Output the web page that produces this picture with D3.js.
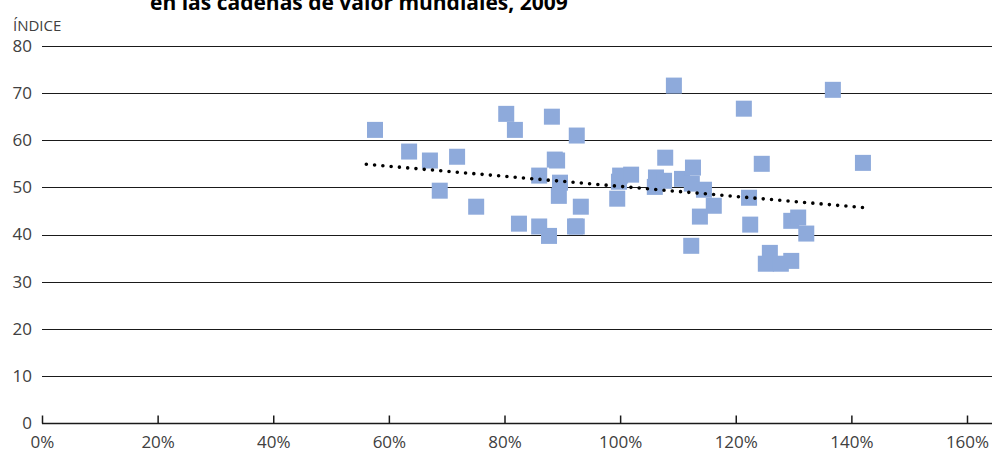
<!DOCTYPE html>
<html>
<head>
<meta charset="utf-8">
<script src="https://cdn.jsdelivr.net/npm/d3@7"></script>
<style>
  html, body { margin: 0; padding: 0; background: #fff; }
  svg { display: block; }
  text { font-family: "Open Sans", "Noto Sans", sans-serif; }
</style>
</head>
<body>
<svg id="chart" width="992" height="450"></svg>
<script>
// ---- data ----
const titleText = "en las cadenas de valor mundiales, 2009";
const yAxisLabel = "ÍNDICE";
const xTicks = [0, 20, 40, 60, 80, 100, 120, 140, 160];
const yTicks = [0, 10, 20, 30, 40, 50, 60, 70, 80];
// x: percent, y: index
const pointsX = [57.6, 63.5, 67.1, 68.8, 71.8, 75.1, 80.3, 81.8, 82.5, 86.0,
                 86.0, 87.7, 88.2, 88.7, 89.1, 89.6, 89.4, 93.2, 92.2, 92.5,
                 92.5, 99.5, 100.0, 99.8, 101.9, 107.8, 106.2, 106.0, 107.6, 109.3,
                 110.7, 112.6, 112.4, 114.5, 116.2, 113.8, 112.3, 121.4, 122.3, 122.5,
                 124.5, 125.2, 125.9, 127.8, 129.6, 129.6, 130.8, 132.2, 136.8, 142.0];
const pointsY = [62.2, 57.6, 55.7, 49.3, 56.5, 45.9, 65.6, 62.2, 42.3, 52.5,
                 41.7, 39.7, 65.0, 55.9, 55.7, 51.0, 48.2, 45.9, 41.7, 41.7,
                 61.0, 47.6, 52.5, 51.2, 52.7, 56.3, 52.1, 50.1, 51.4, 71.6,
                 51.8, 54.2, 50.8, 49.5, 46.1, 43.8, 37.6, 66.7, 47.8, 42.1,
                 55.0, 33.8, 36.1, 33.8, 34.4, 42.9, 43.6, 40.2, 70.7, 55.2];
// linear trend line end points
const trendX = [56.1, 142.2];
const trendY = [54.9, 45.7];

// ---- layout ----
const svg = d3.select("#chart");
const W = 992;
const x = d3.scaleLinear().domain([0, 160]).range([42, 967]);
const y = d3.scaleLinear().domain([0, 80]).range([423, 46]);
const plotRight = W;

// gridlines
svg.append("g")
  .selectAll("line")
  .data(yTicks.filter(d => d !== 0))
  .join("line")
  .attr("x1", x(0)).attr("x2", plotRight)
  .attr("y1", d => Math.round(y(d)) + 0.5)
  .attr("y2", d => Math.round(y(d)) + 0.5)
  .attr("stroke", "#1a1a1a")
  .attr("stroke-width", 1.2);

// x axis (ticks pointing up)
const xAxisG = svg.append("g")
  .attr("transform", `translate(0,${Math.round(y(0)) + 0.5})`)
  .call(d3.axisBottom(x).tickValues(xTicks).tickSize(-8).tickSizeOuter(0)
        .tickFormat(d => d + "%").tickPadding(12));
xAxisG.select(".domain").remove();
xAxisG.append("line")
  .attr("x1", x(0)).attr("x2", plotRight).attr("y1", 0).attr("y2", 0)
  .attr("stroke", "#1a1a1a").attr("stroke-width", 1.5);
xAxisG.selectAll(".tick line").attr("stroke", "#1a1a1a").attr("stroke-width", 1.5);
xAxisG.selectAll(".tick text")
  .attr("font-size", 17)
  .attr("fill", "#404040")
  .style("font-family", "'Open Sans', sans-serif");

// y axis labels (no line)
const yAxisG = svg.append("g")
  .attr("transform", `translate(${x(0)},0)`)
  .call(d3.axisLeft(y).tickValues(yTicks).tickSize(0).tickPadding(10));
yAxisG.select(".domain").remove();
yAxisG.selectAll(".tick text")
  .attr("font-size", 17)
  .attr("fill", "#404040")
  .style("font-family", "'Open Sans', sans-serif");

// y axis label
svg.append("text")
  .attr("x", 13).attr("y", 31)
  .attr("font-size", 15)
  .attr("fill", "#404040")
  .text(yAxisLabel);

// title (clipped at top as in the reference)
svg.append("text")
  .attr("x", 150).attr("y", 10)
  .attr("font-size", 21)
  .attr("font-weight", "bold")
  .attr("fill", "#000")
  .text(titleText);

// points
const s = 16;
svg.append("g")
  .selectAll("rect")
  .data(pointsX.map((d, i) => [d, pointsY[i]]))
  .join("rect")
  .attr("x", d => x(d[0]) - s / 2)
  .attr("y", d => y(d[1]) - s / 2)
  .attr("width", s).attr("height", s)
  .attr("fill", "#8eaadb");

// trend line (dotted)
svg.append("line")
  .attr("x1", x(trendX[0])).attr("y1", y(trendY[0]))
  .attr("x2", x(trendX[1])).attr("y2", y(trendY[1]))
  .attr("stroke", "#000")
  .attr("stroke-width", 3.6)
  .attr("stroke-linecap", "round")
  .attr("stroke-dasharray", "0,8.3");
</script>
</body>
</html>
